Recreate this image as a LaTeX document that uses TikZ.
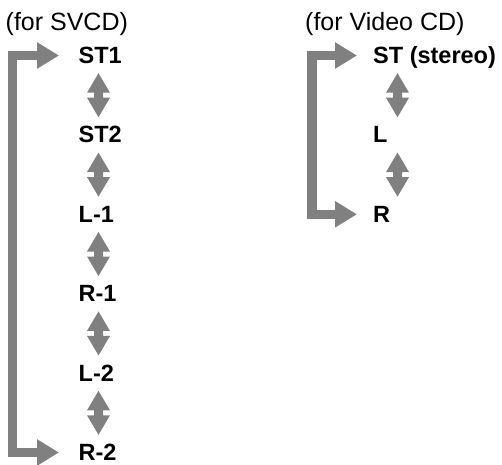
\documentclass[tikz,border=0pt]{standalone}
\usepackage{fontspec}
\setmainfont{Liberation Sans}
\usetikzlibrary{arrows.meta,calc}
\definecolor{arrowgray}{RGB}{128,128,128}
\tikzset{
  header/.style={anchor=base west, inner sep=0pt, font=\fontsize{25}{29}\selectfont},
  lbl/.style={anchor=west, inner sep=0pt, text height=16pt, text depth=0pt, font=\fontsize{23.5}{27}\selectfont\bfseries},
  dblarrow/.pic={\fill[arrowgray] (0,-22) -- ++(11.5,19.5) -- ++(-7,0) -- ++(0,5) -- ++(7,0)
     -- ++(-11.5,19.5) -- ++(-11.5,-19.5) -- ++(7,0) -- ++(0,-5) -- ++(-7,0) -- cycle;},
  bracket/.style={draw=arrowgray, line width=9.5pt, line join=miter,
    {Triangle[width=25pt,length=22pt]}-{Triangle[width=25pt,length=22pt]}}
}
\begin{document}
\begin{tikzpicture}[x=1pt,y=-1pt]
\useasboundingbox (0,0) rectangle (502,464);
% headers
\node[header] (h1) at (5.5,30) {(for SVCD)};
\node[header] (h2) at (305,30) {(for Video CD)};
% left column
\node[lbl] (ST1) at (78.5,55.5) {ST1};
\node[lbl] (ST2) at (78.5,134.9) {ST2};
\node[lbl] (L1) at (78.5,214.3) {L-1};
\node[lbl] (R1) at (78.5,293.7) {R-1};
\node[lbl] (L2) at (78.5,373.1) {L-2};
\node[lbl] (R2) at (78.5,452.5) {R-2};
\foreach \a/\b in {ST1/ST2,ST2/L1,L1/R1,R1/L2,L2/R2}
  \path ($(\a.west)!0.5!(\b.west)+(20,0)$) pic {dblarrow};
\draw[bracket] ([xshift=-19.5pt]R2.west) -| (12.5,250) |- ([xshift=-19.5pt]ST1.west);
% right column
\node[lbl] (ST) at (373,55.5) {ST (stereo)};
\node[lbl] (L) at (373,134.9) {L};
\node[lbl] (R) at (373,214.3) {R};
\foreach \a/\b in {ST/L,L/R}
  \path ($(\a.west)!0.5!(\b.west)+(24.5,0)$) pic {dblarrow};
\draw[bracket] ([xshift=-16pt]R.west) -| (312,130) |- ([xshift=-16pt]ST.west);
\end{tikzpicture}
\end{document}
